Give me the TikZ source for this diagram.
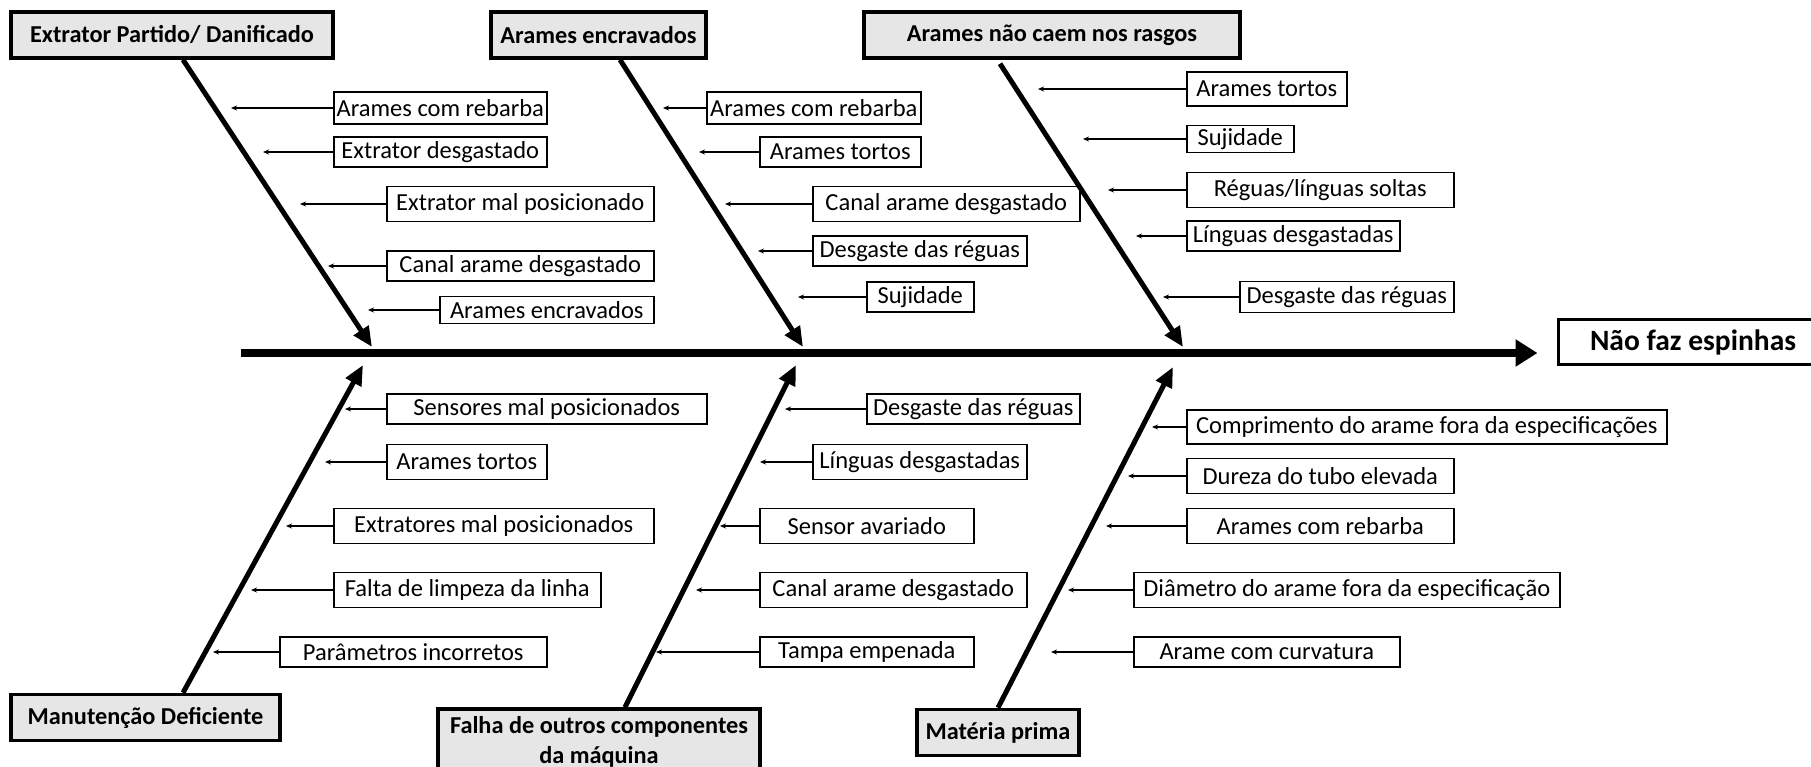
\documentclass[tikz,border=0pt]{standalone}
\usepackage{fontspec}
\setmainfont{Carlito}
\usetikzlibrary{arrows.meta, calc}

\definecolor{titlegray}{HTML}{E6E6E6}

\begin{document}
\begin{tikzpicture}[x=1pt, y=-1pt,
    title/.style={draw, fill=titlegray, line width=3.5pt, minimum height=46pt, inner sep=2pt, font=\bfseries\fontsize{24.3}{30}\selectfont},
    effect/.style={draw, fill=white, line width=3pt, minimum height=45pt, inner sep=2pt, font=\bfseries\fontsize{29.5}{34}\selectfont},
    cause/.style={draw, line width=1.5pt, anchor=west, minimum height=30pt, inner sep=1.5pt, font=\fontsize{24.5}{28}\selectfont},
    tall/.style={minimum height=35pt},
    spine/.style={line width=5pt, -{Triangle[length=20pt,width=17pt]}},
    mainline/.style={line width=8pt, -{Triangle[length=22pt,width=26pt]}},
    causearrow/.style={line width=1.5pt, -{Stealth[length=6pt,width=5pt]}}]

    \fill[white] (0,0) rectangle (1811,767);
    \useasboundingbox (0,0) rectangle (1811,767);

    \node[title, minimum width=322pt] (extrator) at (172,35) {Extrator Partido/ Danificado};
    \node[title, minimum width=215pt] (encravados) at (598.5,35) {Arames encravados};
    \node[title, minimum width=376pt] (rasgos) at (1052,35) {Arames não caem nos rasgos};
    \node[title, minimum width=269pt] (manutencao) at (145.5,717.5) {Manutenção Deficiente};
    \node[title, minimum width=322pt, minimum height=66pt, align=center] (falha) at (599,742) {Falha de outros componentes\\da máquina};
    \node[title, minimum width=162pt] (materia) at (998,732.5) {Matéria prima};
    \node[effect, minimum width=270pt] (efeito) at (1693,342) {Não faz espinhas};

    \coordinate (M0) at (241,353);
    \coordinate (K1) at (372,347);
    \coordinate (K2) at (803,347);
    \coordinate (K3) at (1183,347);
    \coordinate (K4) at (363,365);
    \coordinate (K5) at (796,365);
    \coordinate (K6) at (1173,367);

    \draw[mainline] (M0) -- ([xshift=-19pt]efeito.west |- M0);

    \draw[spine] ([xshift=11pt]extrator.south) -- (K1);
    \draw[spine] ([xshift=21.5pt]encravados.south) -- (K2);
    \draw[spine] ([xshift=-52pt,yshift=-4pt]rasgos.south) -- (K3);
    \draw[spine] ([xshift=37.5pt]manutencao.north) -- (K4);
    \draw[spine] ([xshift=26pt]falha.north) -- (K5);
    \draw[spine] (materia.north) -- (K6);

    \node[cause, minimum width=213pt, minimum height=32pt] (a1) at (333,108) {Arames com rebarba};
    \node[cause, minimum width=213pt] (a2) at (333,152) {Extrator desgastado};
    \node[cause, tall, minimum width=267pt] (a3) at (386,204) {Extrator mal posicionado};
    \node[cause, minimum width=267pt] (a4) at (386,266) {Canal arame desgastado};
    \node[cause, minimum width=214pt, minimum height=27pt] (a5) at (439,310) {Arames encravados};

    \coordinate (A1) at (231,108);
    \coordinate (A2) at (263,152);
    \coordinate (A3) at (300,204);
    \coordinate (A4) at (328,266);
    \coordinate (A5) at (368,310);

    \draw[causearrow] (a1) -- (A1);
    \draw[causearrow] (a2) -- (A2);
    \draw[causearrow] (a3) -- (A3);
    \draw[causearrow] (a4) -- (A4);
    \draw[causearrow] (a5) -- (A5);

    \node[cause, minimum width=214pt, minimum height=32pt] (b1) at (706,108) {Arames com rebarba};
    \node[cause, minimum width=161pt] (b2) at (759,152) {Arames tortos};
    \node[cause, tall, minimum width=267pt] (b3) at (812,204) {Canal arame desgastado};
    \node[cause, minimum width=214pt] (b4) at (812,251) {Desgaste das réguas};
    \node[cause, minimum width=107pt] (b5) at (866,297) {Sujidade};

    \coordinate (B1) at (663,108);
    \coordinate (B2) at (699,152);
    \coordinate (B3) at (725,204);
    \coordinate (B4) at (758,251);
    \coordinate (B5) at (798,297);

    \draw[causearrow] (b1) -- (B1);
    \draw[causearrow] (b2) -- (B2);
    \draw[causearrow] (b3) -- (B3);
    \draw[causearrow] (b4) -- (B4);
    \draw[causearrow] (b5) -- (B5);

    \node[cause, minimum width=160pt, minimum height=34pt] (c1) at (1186,89) {Arames tortos};
    \node[cause, minimum width=107pt, minimum height=27pt] (c2) at (1186,139) {Sujidade};
    \node[cause, tall, minimum width=267pt] (c3) at (1186,190) {Réguas/línguas soltas};
    \node[cause, minimum width=213pt] (c4) at (1186,236) {Línguas desgastadas};
    \node[cause, minimum width=214pt, minimum height=31pt] (c5) at (1239,297) {Desgaste das réguas};

    \coordinate (C1) at (1038,89);
    \coordinate (C2) at (1083,139);
    \coordinate (C3) at (1108,190);
    \coordinate (C4) at (1136,236);
    \coordinate (C5) at (1163,297);

    \draw[causearrow] (c1) -- (C1);
    \draw[causearrow] (c2) -- (C2);
    \draw[causearrow] (c3) -- (C3);
    \draw[causearrow] (c4) -- (C4);
    \draw[causearrow] (c5) -- (C5);

    \node[cause, minimum width=320pt] (d1) at (386,409) {Sensores mal posicionados};
    \node[cause, tall, minimum width=160pt] (d2) at (386,462) {Arames tortos};
    \node[cause, tall, minimum width=320pt] (d3) at (333,526) {Extratores mal posicionados};
    \node[cause, tall, minimum width=267pt] (d4) at (333,590) {Falta de limpeza da linha};
    \node[cause, minimum width=267pt] (d5) at (279,652) {Parâmetros incorretos};

    \coordinate (D1) at (345,409);
    \coordinate (D2) at (325,462);
    \coordinate (D3) at (286,526);
    \coordinate (D4) at (251,590);
    \coordinate (D5) at (213,652);

    \draw[causearrow] (d1) -- (D1);
    \draw[causearrow] (d2) -- (D2);
    \draw[causearrow] (d3) -- (D3);
    \draw[causearrow] (d4) -- (D4);
    \draw[causearrow] (d5) -- (D5);

    \node[cause, minimum width=213pt] (e1) at (866,409) {Desgaste das réguas};
    \node[cause, tall, minimum width=214pt] (e2) at (812,462) {Línguas desgastadas};
    \node[cause, tall, minimum width=214pt] (e3) at (759,526) {Sensor avariado};
    \node[cause, tall, minimum width=267pt] (e4) at (759,590) {Canal arame desgastado};
    \node[cause, minimum width=214pt] (e5) at (759,652) {Tampa empenada};

    \coordinate (E1) at (785,409);
    \coordinate (E2) at (760,462);
    \coordinate (E3) at (720,526);
    \coordinate (E4) at (696,590);
    \coordinate (E5) at (656,652);

    \draw[causearrow] (e1) -- (E1);
    \draw[causearrow] (e2) -- (E2);
    \draw[causearrow] (e3) -- (E3);
    \draw[causearrow] (e4) -- (E4);
    \draw[causearrow] (e5) -- (E5);

    \node[cause, minimum width=480pt, minimum height=34pt] (f1) at (1186,427) {Comprimento do arame fora da especificações};
    \node[cause, tall, minimum width=267pt] (f2) at (1186,476) {Dureza do tubo elevada};
    \node[cause, tall, minimum width=267pt] (f3) at (1186,526) {Arames com rebarba};
    \node[cause, tall, minimum width=426pt] (f4) at (1133,590) {Diâmetro do arame fora da especificação};
    \node[cause, minimum width=266pt] (f5) at (1133,652) {Arame com curvatura};

    \coordinate (F1) at (1152,427);
    \coordinate (F2) at (1128,476);
    \coordinate (F3) at (1106,526);
    \coordinate (F4) at (1068,590);
    \coordinate (F5) at (1051,652);

    \draw[causearrow] (f1) -- (F1);
    \draw[causearrow] (f2) -- (F2);
    \draw[causearrow] (f3) -- (F3);
    \draw[causearrow] (f4) -- (F4);
    \draw[causearrow] (f5) -- (F5);
\end{tikzpicture}
\end{document}
